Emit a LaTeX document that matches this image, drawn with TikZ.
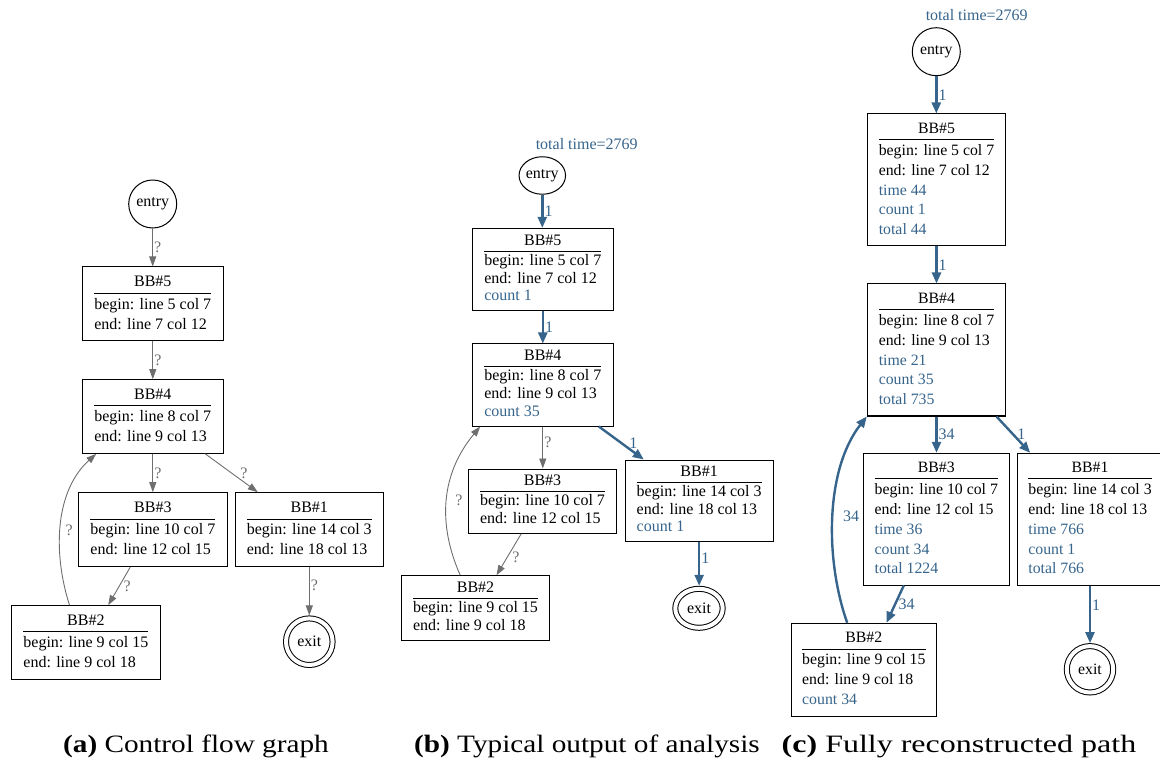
\documentclass[tikz,border=0pt]{standalone}
\usepackage{fontspec}
\setmainfont{Liberation Serif}
\usetikzlibrary{arrows.meta,shapes.geometric}

\definecolor{flow}{HTML}{36648B}
\definecolor{unk}{HTML}{6E6E6E}
\setlength{\arrayrulewidth}{0.9pt}

% basic-block label: centred title, rule, left-aligned lines
\newcommand{\bbtab}[2]{\begin{tabular}{@{}l@{}}\multicolumn{1}{@{}c@{}}{#1}\\\hline\noalign{\vskip 1.5pt}#2\end{tabular}}
\newcommand{\meas}[1]{\textcolor{flow}{#1}}
\newcommand{\capt}[3][1.17]{\scalebox{#1}[1]{\textbf{(#2)} #3}}

\begin{document}
\begin{tikzpicture}[x=1pt,y=-1pt,
  fa/.style={font=\fontsize{16}{20}\selectfont},
  fb/.style={font=\fontsize{16}{17.6}\selectfont},
  fc/.style={font=\fontsize{15.8}{19.8}\selectfont},
  bb/.style={draw=black, line width=1pt, inner sep=0pt},
  ring/.style={circle, draw=black, line width=1pt, inner sep=0pt},
  oval/.style={ellipse, draw=black, line width=1pt, inner sep=0pt},
  final/.style={double, double distance=4pt, outer sep=3pt},
  unknown/.style={draw=unk, line width=0.9pt, -{Triangle[length=10pt,width=7pt]}},
  known/.style={draw=flow, line width=2.4pt, -{Triangle[length=11pt,width=9pt]}},
  ql/.style={text=unk, inner sep=1pt, font=\fontsize{16}{18}\selectfont},
  kl/.style={text=flow, inner sep=1pt, font=\fontsize{16}{18}\selectfont},
  caption/.style={anchor=base, font=\fontsize{25}{30}\selectfont},
]
\useasboundingbox (0,0) rectangle (1160,767);
\clip (0,0) rectangle (1160,767);

% ---------------- (a) control flow graph ----------------
\node[ring, fa, minimum size=48pt] (ae) at (152.7,204) {entry};
\node[bb, fa, minimum width=141pt, minimum height=74pt] (a5) at (152.8,304)
  {\bbtab{BB\#5}{begin: line 5 col 7\\end: line 7 col 12}};
\node[bb, fa, minimum width=141pt, minimum height=73.6pt] (a4) at (152.8,416.5)
  {\bbtab{BB\#4}{begin: line 8 col 7\\end: line 9 col 13}};
\node[bb, fa, minimum width=148.3pt, minimum height=74pt] (a3) at (152.85,529.7)
  {\bbtab{BB\#3}{begin: line 10 col 7\\end: line 12 col 15}};
\node[bb, fa, minimum width=148pt, minimum height=74pt] (a1) at (309.3,529.7)
  {\bbtab{BB\#1}{begin: line 14 col 3\\end: line 18 col 13}};
\node[bb, fa, minimum width=148.3pt, minimum height=73.6pt] (a2) at (85.85,642.5)
  {\bbtab{BB\#2}{begin: line 9 col 15\\end: line 9 col 18}};
\node[ring, final, fa, minimum size=46.6pt] (ax) at (309.3,641.7) {exit};

\draw[unknown] (ae.south) -- (ae.south |- a5.north) node[midway, right, ql] {?};
\draw[unknown] (a5.south) -- (a5.south |- a4.north) node[midway, right, ql] {?};
\draw[unknown] (a4.south) -- (a4.south |- a3.north) node[midway, right, ql] {?};
\draw[unknown] ([xshift=-18.6pt]a4.south east) -- ([xshift=23pt]a1.north west)
  node[midway, xshift=12.5pt, ql] {?};
\draw[unknown] ([xshift=52pt]a3.south west) -- ([xshift=-52.3pt]a2.north east)
  node[midway, xshift=8pt, ql] {?};
\draw[unknown] ([xshift=58.3pt]a2.north west) .. controls (52,550) and (56,490) .. ([xshift=14.4pt]a4.south west)
  node[pos=0.45, xshift=9pt, ql] {?};
\draw[unknown] (a1.south) -- (a1.south |- ax.north) node[pos=0.38, right, ql] {?};

% ---------------- (b) typical output of analysis ----------------
\node[kl] (btt) at (586.7,144) {total time=2769};
\node[oval, fb, minimum width=46pt, minimum height=37.5pt] (be) at (542.3,175.5) {entry};
\node[bb, fb, minimum width=141pt, minimum height=82.4pt] (b5) at (542.8,269.5)
  {\bbtab{BB\#5}{begin: line 5 col 7\\end: line 7 col 12\\\meas{count 1}}};
\node[bb, fb, minimum width=141pt, minimum height=82pt] (b4) at (542.8,385)
  {\bbtab{BB\#4}{begin: line 8 col 7\\end: line 9 col 13\\\meas{count 35}}};
\node[bb, fb, minimum width=148.4pt, minimum height=64.3pt] (b3) at (542.5,501.15)
  {\bbtab{BB\#3}{begin: line 10 col 7\\end: line 12 col 15}};
\node[bb, fb, minimum width=148.3pt, minimum height=81.7pt] (b1) at (699.15,500.85)
  {\bbtab{BB\#1}{begin: line 14 col 3\\end: line 18 col 13\\\meas{count 1}}};
\node[bb, fb, minimum width=147.6pt, minimum height=64.3pt] (b2) at (475.5,607.85)
  {\bbtab{BB\#2}{begin: line 9 col 15\\end: line 9 col 18}};
\node[oval, final, fb, minimum width=47.4pt, minimum height=39pt] (bx) at (699,608.3) {exit};

\draw[known] (be.south) -- (be.south |- b5.north) node[midway, right, kl] {1};
\draw[known] (b5.south) -- (b5.south |- b4.north) node[midway, right, kl] {1};
\draw[unknown] (b4.south) -- (b4.south |- b3.north) node[pos=0.37, right, ql] {?};
\draw[known] ([xshift=-15pt]b4.south east) -- ([xshift=19.3pt]b1.north west)
  node[midway, xshift=12pt, kl] {1};
\draw[unknown] ([xshift=53.4pt]b3.south west) -- ([xshift=-53.3pt]b2.north east)
  node[midway, xshift=7pt, yshift=-3pt, ql] {?};
\draw[unknown] ([xshift=59pt]b2.north west) .. controls (438,525) and (440,475) .. ([xshift=8.4pt]b4.south west)
  node[pos=0.5, xshift=12pt, ql] {?};
\draw[known] (b1.south) -- (b1.south |- bx.north) node[pos=0.36, right, kl] {1};

% ---------------- (c) fully reconstructed path ----------------
\node[kl] (ctt) at (976.7,15) {total time=2769};
\node[ring, fc, minimum size=48pt] (ce) at (936.3,51.7) {entry};
\node[bb, fc, minimum width=138.4pt, minimum height=132pt] (c5) at (936.5,180)
  {\bbtab{BB\#5}{begin: line 5 col 7\\end: line 7 col 12\\\meas{time 44}\\\meas{count 1}\\\meas{total 44}}};
\node[bb, fc, minimum width=138.4pt, minimum height=132pt] (c4) at (936.5,350)
  {\bbtab{BB\#4}{begin: line 8 col 7\\end: line 9 col 13\\\meas{time 21}\\\meas{count 35}\\\meas{total 735}}};
\node[bb, fc, minimum width=146pt, minimum height=131.7pt] (c3) at (936.3,519.15)
  {\bbtab{BB\#3}{begin: line 10 col 7\\end: line 12 col 15\\\meas{time 36}\\\meas{count 34}\\\meas{total 1224}}};
\node[bb, fc, minimum width=145.4pt, minimum height=131.7pt] (c1) at (1090,519.15)
  {\bbtab{BB\#1}{begin: line 14 col 3\\end: line 18 col 13\\\meas{time 766}\\\meas{count 1}\\\meas{total 766}}};
\node[bb, fc, minimum width=145.7pt, minimum height=92.7pt] (c2) at (863.85,669.65)
  {\bbtab{BB\#2}{begin: line 9 col 15\\end: line 9 col 18\\\meas{count 34}}};
\node[ring, final, fc, minimum size=46.4pt] (cx) at (1090,669.3) {exit};

\draw[known] (ce.south) -- (ce.south |- c5.north) node[midway, right, kl] {1};
\draw[known] (c5.south) -- (c5.south |- c4.north) node[midway, right, kl] {1};
\draw[known] (c4.south) -- (c4.south |- c3.north) node[midway, right, kl] {34};
\draw[known] ([xshift=-9.7pt]c4.south east) -- ([xshift=13.4pt]c1.north west)
  node[midway, xshift=8pt, kl] {1};
\draw[known] ([xshift=41pt]c3.south west) -- ([xshift=-50.7pt]c2.north east)
  node[midway, xshift=11.5pt, kl] {34};
\draw[known] ([xshift=56.7pt]c2.north west) .. controls (825,560) and (825,470) .. (c4.south west)
  node[pos=0.5, xshift=18pt, kl] {34};
\draw[known] (c1.south) -- (c1.south |- cx.north) node[pos=0.35, right, kl] {1};

% ---------------- captions ----------------
\node[caption] (capa) at (196,752) {\capt{a}{Control flow graph}};
\node[caption] (capb) at (587,752) {\capt{b}{Typical output of analysis}};
\node[caption] (capc) at (959,752) {\capt[1.28]{c}{Fully reconstructed path}};
\end{tikzpicture}
\end{document}
